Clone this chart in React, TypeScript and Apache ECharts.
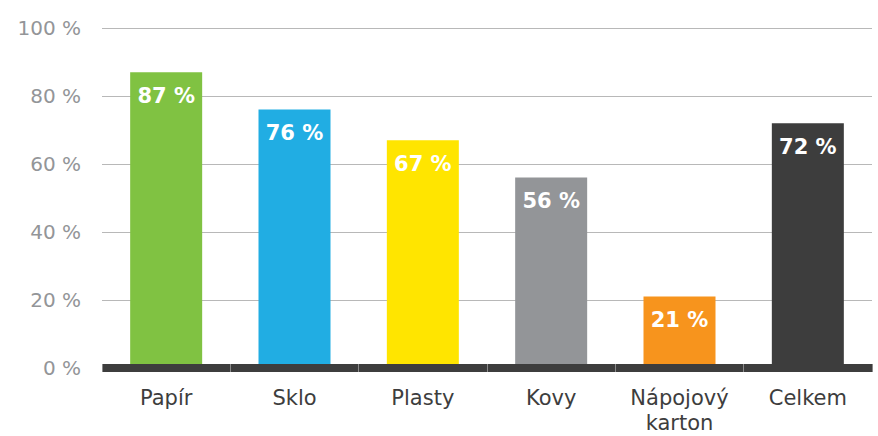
import React, { useEffect, useRef } from "react";
import * as echarts from "echarts";

const categories = ["Papír", "Sklo", "Plasty", "Kovy", "Nápojový\nkarton", "Celkem"];
const values = [87, 76, 67, 56, 21, 72];
const colors = ["#80c242", "#21ade3", "#ffe500", "#939598", "#f7941d", "#3d3d3d"];
const yTicks = [0, 20, 40, 60, 80, 100];

export default function App() {
  const ref = useRef<HTMLDivElement>(null);
  useEffect(() => {
    if (!ref.current) return;
    const chart = echarts.init(ref.current, null, { renderer: "svg" });
    const font = "'DejaVu Sans', sans-serif";
    chart.setOption({
      animation: false,
      grid: { left: 102, right: 6, top: 28, bottom: 68, containLabel: false },
      xAxis: [
        {
          type: "category",
          data: categories,
          z: 5,
          axisLine: { show: true, lineStyle: { color: "#3d3d3d", width: 8, cap: "butt" } },
          axisTick: { show: true, length: 4, lineStyle: { color: "#8a8a8a", width: 1 } },
          axisLabel: {
            color: "#3d3d3d",
            fontSize: 21,
            fontFamily: font,
            margin: 17,
            lineHeight: 25,
          },
        },
        {
          type: "category",
          data: categories,
          position: "bottom",
          offset: 0,
          z: 6,
          axisLine: { show: false },
          axisTick: { show: true, inside: true, length: 4, lineStyle: { color: "#8a8a8a", width: 1 } },
          axisLabel: { show: false },
        },
      ],
      yAxis: {
        type: "value",
        min: 0,
        max: 100,
        interval: 20,
        axisLine: { show: false },
        axisTick: { show: false },
        axisLabel: {
          color: "#939598",
          fontSize: 20,
          fontFamily: font,
          margin: 21,
          formatter: (v: number) => (yTicks.includes(v) ? `${v} %` : ""),
        },
        splitLine: { lineStyle: { color: "#b8b8b8", width: 1 } },
      },
      series: [
        {
          type: "bar",
          barWidth: 72,
          xAxisIndex: 0,
          data: values.map((v, i) => ({ value: v, itemStyle: { color: colors[i] } })),
          label: {
            show: true,
            position: "insideTop",
            distance: 13,
            color: "#ffffff",
            fontSize: 21,
            fontWeight: "bold",
            fontFamily: font,
            formatter: (p: any) => `${p.value} %`,
          },
        },
      ],
    });
    return () => chart.dispose();
  }, []);
  return <div ref={ref} style={{ width: 878, height: 436, position: "absolute", left: 0, top: 0 }} />;
}
